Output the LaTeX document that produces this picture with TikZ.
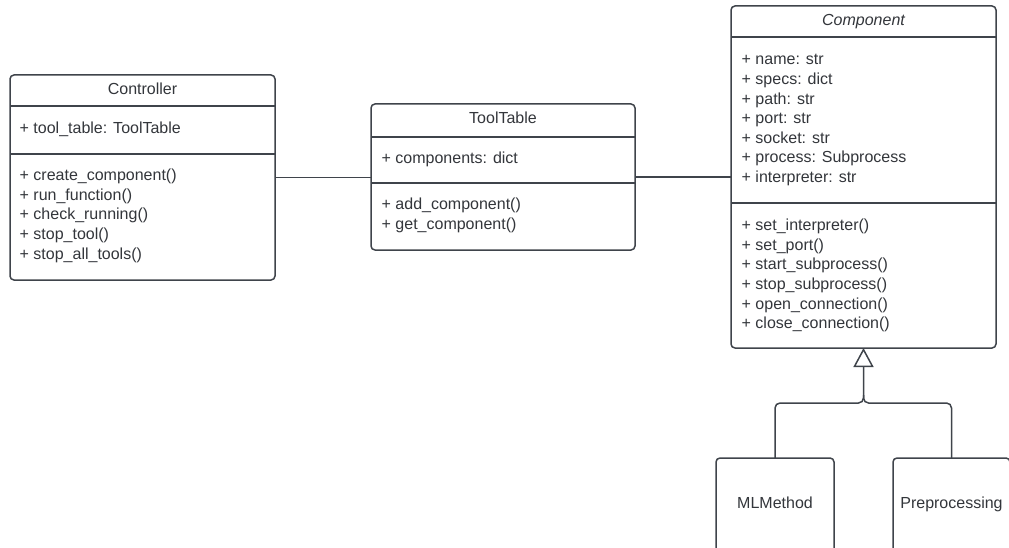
\documentclass[tikz,border=0pt]{standalone}
\usepackage{fontspec}
\setmainfont{Liberation Sans}
\usetikzlibrary{arrows.meta}
\definecolor{umlline}{HTML}{3F444B}
\definecolor{umltext}{HTML}{33363B}
\begin{document}
\begin{tikzpicture}[x=1pt,y=-1pt,
  classbox/.style={draw=umlline, line width=1.5pt, rounded corners=4pt, fill=white,
    inner sep=0pt, outer sep=0pt, anchor=north west},
  txt/.style={anchor=base west, inner sep=0pt, text=umltext,
    font=\fontsize{16}{19}\selectfont},
  ttl/.style={txt, anchor=base},
  sep/.style={draw=umlline, line width=1.5pt},
  link/.style={draw=umlline, line width=1.5pt}]
\useasboundingbox (0,0) rectangle (1009,548);
\clip (0,0) rectangle (1009,548);

% ---------- Controller ----------
\node[classbox, minimum width=265pt, minimum height=205pt] (ctrl) at (10,75) {};
\draw[sep] (ctrl.west |- 0,106) -- (ctrl.east |- 0,106);
\draw[sep] (ctrl.west |- 0,154) -- (ctrl.east |- 0,154);
\node[ttl] (ctrlt) at (142.5,94.5) {Controller};
\node[txt] (ctrla1) at (19.5,134) {+ tool\_table: ToolTable};
\foreach[count=\i] \t in {+ create\_component(), + run\_function(),
    + check\_running(), + stop\_tool(), + stop\_all\_tools()}
  \node[txt] (ctrlm\i) at (19.5,{180.7+(\i-1)*19.6}) {\t};

% ---------- ToolTable ----------
\node[classbox, minimum width=264pt, minimum height=146pt] (tt) at (371,104) {};
\draw[sep] (tt.west |- 0,137) -- (tt.east |- 0,137);
\draw[sep] (tt.west |- 0,183) -- (tt.east |- 0,183);
\node[ttl] (ttt) at (503,124) {ToolTable};
\node[txt] (tta1) at (381.5,163.3) {+ components: dict};
\foreach[count=\i] \t in {+ add\_component(), + get\_component()}
  \node[txt] (ttm\i) at (381.5,{210+(\i-1)*19.8}) {\t};

% ---------- Component ----------
\node[classbox, minimum width=265pt, minimum height=342pt] (comp) at (731,6) {};
\draw[sep] (comp.west |- 0,37) -- (comp.east |- 0,37);
\draw[sep] (comp.west |- 0,203) -- (comp.east |- 0,203);
\node[ttl, font=\fontsize{16}{19}\selectfont\itshape] (compt) at (863.5,26) {Component};
\foreach[count=\i] \t in {+ name: str, + specs: dict, + path: str, + port: str,
    + socket: str, + process: Subprocess, + interpreter: str}
  \node[txt] (compa\i) at (741.5,{65+(\i-1)*19.6}) {\t};
\foreach[count=\i] \t in {+ set\_interpreter(), + set\_port(), + start\_subprocess(),
    + stop\_subprocess(), + open\_connection(), + close\_connection()}
  \node[txt] (compm\i) at (741.5,{230.7+(\i-1)*19.6}) {\t};

% ---------- subclasses ----------
\node[classbox, minimum width=118pt, minimum height=110pt] (mlm) at (716,458) {};
\node[ttl] (mlmt) at (775,508) {MLMethod};
\node[classbox, minimum width=117pt, minimum height=110pt] (pre) at (893,458) {};
\node[ttl] (pret) at (951.5,508) {Preprocessing};

% ---------- associations ----------
\draw[link] (ctrl.east) -- (tt.west |- ctrl.east);
\draw[link] (tt.east) -- (comp.west |- tt.east);

% ---------- generalisation ----------
\coordinate (join) at (comp.south |- 0,403);
\draw[link, rounded corners=5pt, -{Triangle[open, length=19pt, width=20pt]}]
  (mlm.north) -- (mlm.north |- join) -- (join) -- (comp.south);
\draw[link, rounded corners=5pt]
  (pre.north) -- (pre.north |- join) -- (join) -- ++(0,-8);
\end{tikzpicture}
\end{document}
